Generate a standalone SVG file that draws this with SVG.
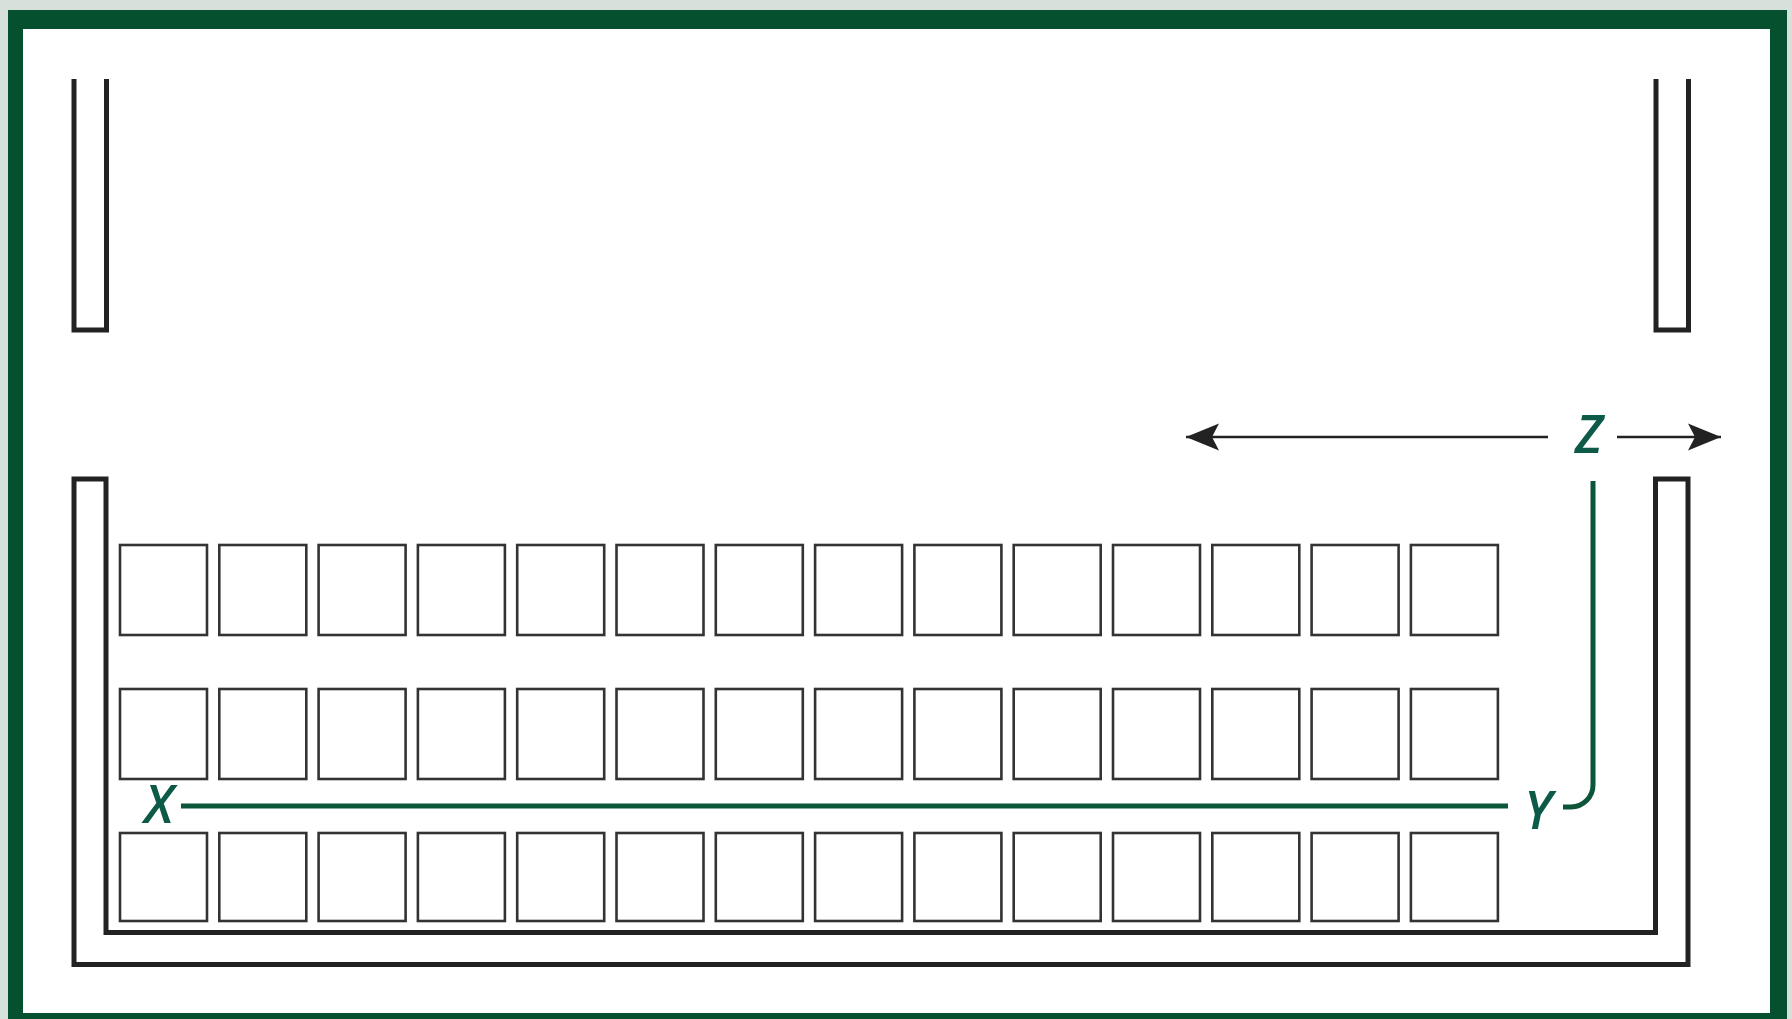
<svg xmlns="http://www.w3.org/2000/svg" width="1792" height="1019" viewBox="0 0 1792 1019">
<defs>
<style>
.wall{fill:none;stroke:#222;stroke-width:5;stroke-linejoin:miter}
.sq{fill:#fff;stroke:#333;stroke-width:2.6}
.dim{fill:none;stroke:#222;stroke-width:2.4}
.path{fill:none;stroke:#0b5538;stroke-width:5}
.lbl{font-family:"Open Sans","Liberation Sans",sans-serif;font-style:italic;font-weight:600;font-size:52px;fill:#0d5a48;text-anchor:middle}
</style>
<marker id="ah" viewBox="-34 -14 36 28" markerWidth="36" markerHeight="28" refX="0" refY="0" orient="auto" markerUnits="userSpaceOnUse">
<path d="M0,0 L-33,-13.5 L-26,0 L-33,13.5 Z" fill="#222"/>
</marker>
</defs>
<rect x="0" y="0" width="1792" height="1019" fill="#d6e1dc"/>
<rect x="8" y="10" width="1779" height="1030" fill="#05512f"/>
<rect x="23" y="29" width="1747" height="984" fill="#fff"/>

<g id="pillar-left"><path class="wall" d="M74,79 V330 H106.5 V79"/></g>
<g id="pillar-right"><path class="wall" d="M1656,79 V330 H1688.5 V79"/></g>
<g id="trough"><path class="wall" d="M106,479 H74 V964.5 H1688 V479 H1655.5 V932.5 H106 Z"/></g>

<g id="squares">
<g id="row1">
<rect class="sq" x="120" y="545" width="87" height="90"/>
<rect class="sq" x="219.3" y="545" width="87" height="90"/>
<rect class="sq" x="318.6" y="545" width="87" height="90"/>
<rect class="sq" x="417.9" y="545" width="87" height="90"/>
<rect class="sq" x="517.2" y="545" width="87" height="90"/>
<rect class="sq" x="616.5" y="545" width="87" height="90"/>
<rect class="sq" x="715.8" y="545" width="87" height="90"/>
<rect class="sq" x="815.1" y="545" width="87" height="90"/>
<rect class="sq" x="914.4" y="545" width="87" height="90"/>
<rect class="sq" x="1013.7" y="545" width="87" height="90"/>
<rect class="sq" x="1113" y="545" width="87" height="90"/>
<rect class="sq" x="1212.3" y="545" width="87" height="90"/>
<rect class="sq" x="1311.6" y="545" width="87" height="90"/>
<rect class="sq" x="1410.9" y="545" width="87" height="90"/>
</g>
<g id="row2">
<rect class="sq" x="120" y="689" width="87" height="90"/>
<rect class="sq" x="219.3" y="689" width="87" height="90"/>
<rect class="sq" x="318.6" y="689" width="87" height="90"/>
<rect class="sq" x="417.9" y="689" width="87" height="90"/>
<rect class="sq" x="517.2" y="689" width="87" height="90"/>
<rect class="sq" x="616.5" y="689" width="87" height="90"/>
<rect class="sq" x="715.8" y="689" width="87" height="90"/>
<rect class="sq" x="815.1" y="689" width="87" height="90"/>
<rect class="sq" x="914.4" y="689" width="87" height="90"/>
<rect class="sq" x="1013.7" y="689" width="87" height="90"/>
<rect class="sq" x="1113" y="689" width="87" height="90"/>
<rect class="sq" x="1212.3" y="689" width="87" height="90"/>
<rect class="sq" x="1311.6" y="689" width="87" height="90"/>
<rect class="sq" x="1410.9" y="689" width="87" height="90"/>
</g>
<g id="row3">
<rect class="sq" x="120" y="833" width="87" height="88"/>
<rect class="sq" x="219.3" y="833" width="87" height="88"/>
<rect class="sq" x="318.6" y="833" width="87" height="88"/>
<rect class="sq" x="417.9" y="833" width="87" height="88"/>
<rect class="sq" x="517.2" y="833" width="87" height="88"/>
<rect class="sq" x="616.5" y="833" width="87" height="88"/>
<rect class="sq" x="715.8" y="833" width="87" height="88"/>
<rect class="sq" x="815.1" y="833" width="87" height="88"/>
<rect class="sq" x="914.4" y="833" width="87" height="88"/>
<rect class="sq" x="1013.7" y="833" width="87" height="88"/>
<rect class="sq" x="1113" y="833" width="87" height="88"/>
<rect class="sq" x="1212.3" y="833" width="87" height="88"/>
<rect class="sq" x="1311.6" y="833" width="87" height="88"/>
<rect class="sq" x="1410.9" y="833" width="87" height="88"/>
</g>
</g>

<g id="connectors">
<line class="dim" x1="1548" y1="437" x2="1186" y2="437" marker-end="url(#ah)"/>
<line class="dim" x1="1617" y1="437" x2="1721" y2="437" marker-end="url(#ah)"/>
<line class="path" x1="181" y1="806" x2="1508" y2="806"/>
<path class="path" d="M1563,807 H1571 A22,22 0 0 0 1593,785 V481"/>
</g>

<g id="labels">
<text class="lbl" x="1589" y="453">Z</text>
<text class="lbl" x="159" y="823">X</text>
<text class="lbl" x="1538" y="829">Y</text>
</g>
</svg>
